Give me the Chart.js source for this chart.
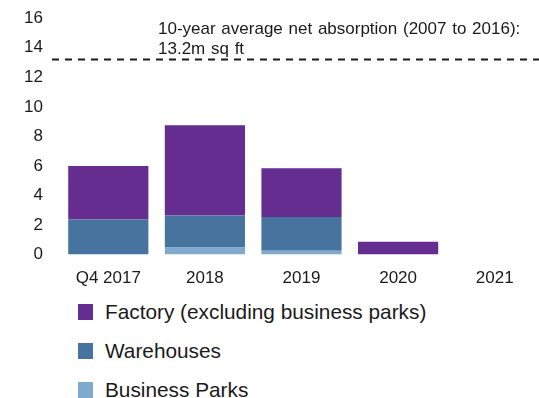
<!DOCTYPE html>
<html>
<head>
  <title>Industrial net absorption</title>
  <script src="https://cdn.jsdelivr.net/npm/chart.js"></script>
  <style>
    html, body { margin: 0; padding: 0; background: #fff; overflow: hidden; }
    #wrap { position: relative; width: 545px; height: 301px; margin-top: -9px; }
    #legend { padding-left: 78px; font-family: "Liberation Sans", Arial, sans-serif; font-size: 20.8px; color: #1a1a1a; }
    #legend .item { height: 39px; display: flex; align-items: center; }
    #legend .box { width: 15px; height: 16px; margin-right: 12px; }
  </style>
</head>
<body>

  <div id="wrap"><canvas id="absorptionChart"></canvas></div>
  <div id="legend"></div>

  <script>
    // net absorption, m sq ft
    const periods = ['Q4 2017', '2018', '2019', '2020', '2021'];
    const businessParks = [0, 0.48, 0.26, 0, null];
    const warehouses = [2.37, 2.16, 2.28, 0, null];
    const factory = [3.63, 6.12, 3.30, 0.86, null];
    const yTicks = [0, 2, 4, 6, 8, 10, 12, 14, 16];

    const tenYearAvg = 13.2;
    const avgNote = ['10-year average net absorption (2007 to 2016):', '13.2m sq ft'];

    const seriesList = [
      { label: 'Factory (excluding business parks)', data: factory, color: '#662d91' },
      { label: 'Warehouses', data: warehouses, color: '#46749f' },
      { label: 'Business Parks', data: businessParks, color: '#80aacd' }
    ];

    Chart.defaults.font.family = '"Liberation Sans", Arial, sans-serif';
    Chart.defaults.color = '#1a1a1a';

    // dashed average line + note
    const avgLine = {
      id: 'avgLine',
      afterDatasetsDraw(chart) {
        const ctx = chart.ctx;
        const y = chart.scales.y.getPixelForValue(tenYearAvg);
        ctx.save();
        ctx.strokeStyle = '#1a1a1a';
        ctx.lineWidth = 2;
        ctx.setLineDash([7, 6]);
        ctx.beginPath();
        ctx.moveTo(chart.chartArea.left - 8, y);
        ctx.lineTo(chart.width, y);
        ctx.stroke();
        ctx.setLineDash([]);
        ctx.fillStyle = '#1a1a1a';
        ctx.font = '17px "Liberation Sans", Arial, sans-serif';
        ctx.wordSpacing = '1px';
        ctx.textBaseline = 'middle';
        ctx.fillText(avgNote[0], 158, 38);
        ctx.fillText(avgNote[1], 158, 58);
        ctx.restore();
      }
    };

    // bottom of the stack first
    const stacked = seriesList.slice().reverse();

    new Chart(document.getElementById('absorptionChart'), {
      type: 'bar',
      data: {
        labels: periods,
        datasets: stacked.map(s => ({
          label: s.label,
          data: s.data,
          backgroundColor: s.color,
          borderWidth: 0,
          categoryPercentage: 1,
          barPercentage: 0.83
        }))
      },
      options: {
        responsive: true,
        maintainAspectRatio: false,
        animation: false,
        layout: { padding: { top: 0, right: 2, left: 0, bottom: 0 } },
        plugins: { legend: { display: false }, tooltip: { enabled: false } },
        scales: {
          x: {
            stacked: true,
            grid: { display: false, drawTicks: false },
            border: { display: false },
            ticks: { padding: 14, font: { size: 17 } },
            afterFit(scale) { scale.height = 37.5; }
          },
          y: {
            stacked: true,
            min: 0,
            max: 16,
            grid: { display: false, drawTicks: false },
            border: { display: false },
            afterBuildTicks(scale) { scale.ticks = yTicks.map(v => ({ value: v })); },
            ticks: { padding: 17, font: { size: 17 } },
            afterFit(scale) { scale.width = 60; }
          }
        }
      },
      plugins: [avgLine]
    });

    const legend = document.getElementById('legend');
    seriesList.forEach(s => {
      const row = document.createElement('div');
      row.className = 'item';
      row.innerHTML = '<span class="box" style="background:' + s.color + '"></span><span>' + s.label + '</span>';
      legend.appendChild(row);
    });
  </script>

</body>
</html>
